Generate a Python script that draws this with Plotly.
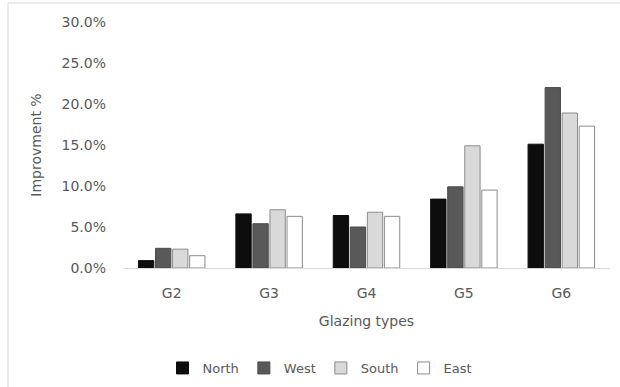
import plotly.graph_objects as go

# Improvement by glazing type and facade orientation (fractions)
glazing_types = ["G2", "G3", "G4", "G5", "G6"]
north = [0.009, 0.066, 0.064, 0.084, 0.151]
west = [0.024, 0.054, 0.050, 0.099, 0.220]
south = [0.023, 0.071, 0.068, 0.149, 0.189]
east = [0.015, 0.063, 0.063, 0.095, 0.173]
y_ticks = [0.0, 0.05, 0.10, 0.15, 0.20, 0.25, 0.30]

FONT = "DejaVu Sans"
TEXT = "#595959"

series = [
    ("North", north, "#0d0d0d", "#0d0d0d"),
    ("West", west, "#595959", "#4a4a4a"),
    ("South", south, "#d9d9d9", "#8c8c8c"),
    ("East", east, "#ffffff", "#8c8c8c"),
]

fig = go.Figure()
for name, vals, fill, edge in series:
    fig.add_trace(go.Bar(
        name=name, x=glazing_types, y=vals,
        marker=dict(color=fill, line=dict(color=edge, width=1)),
    ))

W, H = 620, 387
L, R, T, B = 123, 10, 22, 119
pw, ph = W - L - R, H - T - B

def px_x(x):
    return (x - L) / pw

def px_y(y):
    return (H - B - y) / ph

fig.update_layout(
    width=W, height=H,
    margin=dict(l=L, r=R, t=T, b=B, autoexpand=False),
    paper_bgcolor="white", plot_bgcolor="white",
    barmode="group", bargap=0.3, bargroupgap=0.1,
    font=dict(family=FONT, size=14, color=TEXT),
    showlegend=True,
    legend=dict(
        orientation="h", x=px_x(320), y=px_y(368),
        xanchor="center", yanchor="middle",
        font=dict(family=FONT, size=13, color=TEXT),
        itemwidth=30, tracegroupgap=0, traceorder="normal",
    ),
    xaxis=dict(
        showgrid=False, showline=True, linecolor="#d9d9d9", linewidth=1,
        ticks="", ticklabelstandoff=12,
        tickfont=dict(family=FONT, size=14, color=TEXT),
        title=dict(text="Glazing types", standoff=16,
                   font=dict(family=FONT, size=14, color=TEXT)),
    ),
    yaxis=dict(
        range=[0, 0.30], tickvals=y_ticks, tickformat=".1%",
        showgrid=False, zeroline=False, showline=False,
        ticks="", ticklabelstandoff=16,
        tickfont=dict(family=FONT, size=14, color=TEXT),
        title=dict(text="Improvment %", standoff=16,
                   font=dict(family=FONT, size=14, color=TEXT)),
    ),
    shapes=[dict(
        type="rect", xref="paper", yref="paper",
        x0=px_x(8), x1=px_x(640), y0=px_y(400), y1=px_y(3),
        line=dict(color="#d9d9d9", width=1), layer="below",
    )],
)

fig.write_html("out.html")
